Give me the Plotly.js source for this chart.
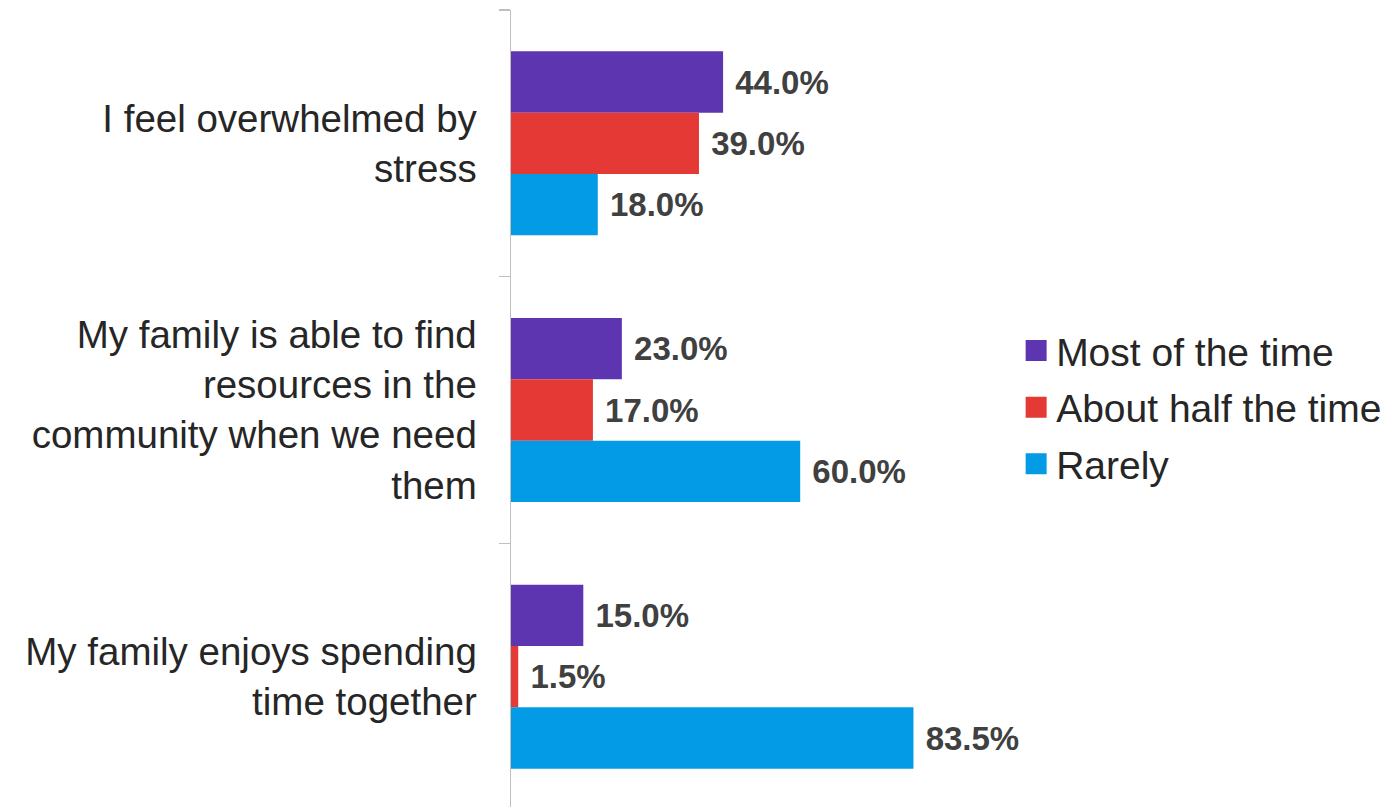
<!DOCTYPE html>
<html>
<head>
<meta charset="utf-8">
<script src="https://cdn.plot.ly/plotly-3.0.1.min.js"></script>
<style>html,body{margin:0;padding:0;overflow:hidden;background:#fff;}</style>
</head>
<body>
<div id="chart" style="width:1395px;height:810px;"></div>
<script>
const categories = [
  "I feel overwhelmed by<br>stress",
  "My family is able to find<br>resources in the<br>community when we need<br>them",
  "My family enjoys spending<br>time together"
];
const seriesNames = ["Most of the time", "About half the time", "Rarely"];
const mostOfTheTime = [44.0, 23.0, 15.0];
const aboutHalfTheTime = [39.0, 17.0, 1.5];
const rarely = [18.0, 60.0, 83.5];
const colors = ["#5E35B1", "#E53935", "#039BE5"];
const seriesValues = [mostOfTheTime, aboutHalfTheTime, rarely];

const traces = [];
seriesValues.forEach((vals, i) => {
  traces.push({
    type: 'bar', orientation: 'h',
    name: seriesNames[i],
    x: vals, y: categories,
    marker: {color: colors[i]},
    texttemplate: '\u00a0%{x:.1f}%',
    textposition: 'outside',
    cliponaxis: false,
    textfont: {family: 'Liberation Sans, Arial, sans-serif', size: 33, color: '#404040', weight: 'bold'},
    showlegend: false,
    hoverinfo: 'none'
  });
});
seriesNames.forEach((n, i) => {
  traces.push({
    type: 'scatter', mode: 'markers',
    name: n, x: [null], y: [null],
    legendgroup: 'g' + i,
    marker: {symbol: 'square', size: 16, color: colors[i], line: {color: colors[i], width: 5}},
    showlegend: true
  });
});

const layout = {
  width: 1395, height: 810,
  margin: {l: 511, r: 402, t: 10, b: 0},
  paper_bgcolor: '#fff', plot_bgcolor: '#fff',
  barmode: 'group', bargap: 0.31, bargroupgap: 0,
  font: {family: 'Liberation Sans, Arial, sans-serif', color: '#262626'},
  xaxis: {range: [0, 100], visible: false, fixedrange: true},
  yaxis: {
    type: 'category', autorange: 'reversed',
    showline: true, linecolor: '#bfbfbf', linewidth: 1.5,
    ticks: 'outside', tickson: 'boundaries', ticklen: 11, tickcolor: '#bfbfbf', tickwidth: 1.5,
    ticklabelstandoff: 25,
    tickfont: {size: 38.5, color: '#262626'},
    showgrid: false, zeroline: false
  },
  legend: {
    x: 1.048, y: 0.503, xanchor: 'left', yanchor: 'middle',
    font: {size: 39, color: '#262626'},
    tracegroupgap: 3, traceorder: 'grouped',
    bgcolor: 'rgba(0,0,0,0)'
  },
  showlegend: true
};
Plotly.newPlot('chart', traces, layout, {displayModeBar: false, staticPlot: true});
</script>
</body>
</html>
